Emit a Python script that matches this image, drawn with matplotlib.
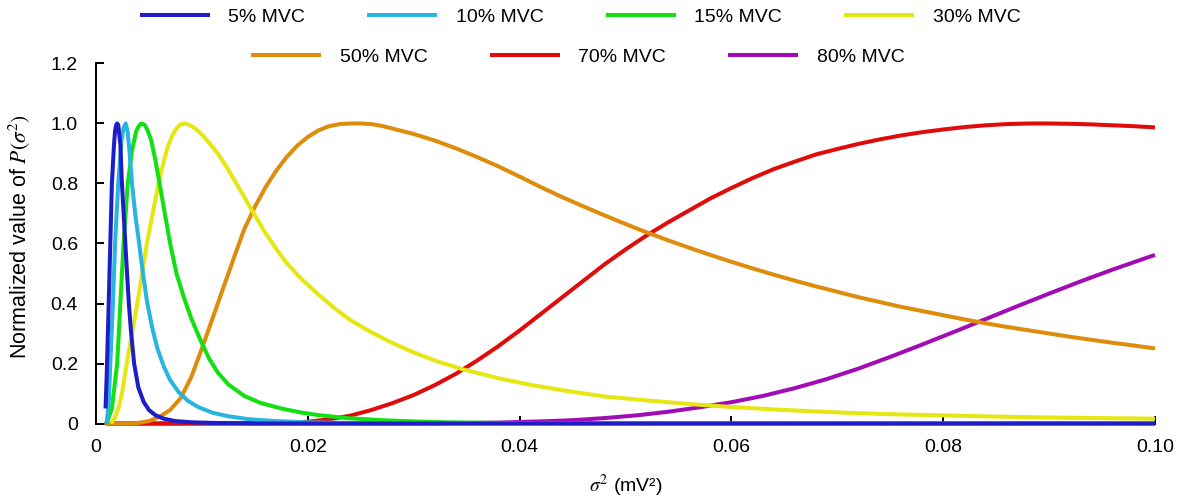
import numpy as np
import matplotlib
matplotlib.use("Agg")
import matplotlib.pyplot as plt

plt.rcParams["font.family"] = ["Liberation Sans", "DejaVu Sans"]
plt.rcParams["mathtext.fontset"] = "stix"

# normalised P(sigma^2) curves, one per contraction level
labels = ["5% MVC", "10% MVC", "15% MVC", "30% MVC", "50% MVC", "70% MVC", "80% MVC"]
colors = ["#1e1ec8", "#2ab4e0", "#12e012", "#e6e612", "#de8c0c", "#e00c0c", "#a20cb6"]

x05 = [0.0009, 0.0010, 0.0012, 0.00135, 0.0015, 0.0017, 0.0018, 0.0019, 0.0020, 0.0021,
       0.0023, 0.00245, 0.0028, 0.0031, 0.0033, 0.0036, 0.0040, 0.0045, 0.0050, 0.0056,
       0.0064, 0.0075, 0.0090, 0.0110, 0.0150, 0.1000]
y05 = [0.05, 0.15, 0.40, 0.60, 0.80, 0.93, 0.975, 0.995, 1.00, 0.995,
       0.93, 0.80, 0.58, 0.40, 0.31, 0.20, 0.12, 0.072, 0.045, 0.028,
       0.016, 0.008, 0.004, 0.002, 0.0, 0.0]

x10 = [0.0010, 0.0012, 0.00135, 0.0016, 0.0018, 0.0021, 0.0024, 0.0026, 0.0028, 0.0030,
       0.0032, 0.0034, 0.0037, 0.0040, 0.0044, 0.0048, 0.0053, 0.0058, 0.0064, 0.0070,
       0.0078, 0.0087, 0.0097, 0.0110, 0.0125, 0.0145, 0.0170, 0.0200, 0.0250, 0.0300,
       0.1000]
y10 = [0.0, 0.07, 0.20, 0.40, 0.60, 0.80, 0.94, 0.985, 1.00, 0.97,
       0.89, 0.80, 0.70, 0.62, 0.51, 0.41, 0.32, 0.25, 0.19, 0.145,
       0.105, 0.075, 0.054, 0.036, 0.024, 0.014, 0.008, 0.004, 0.001, 0.0,
       0.0]

x15 = [0.0010, 0.0015, 0.0020, 0.0023, 0.0026, 0.0030, 0.0034, 0.0038, 0.0041, 0.0043,
       0.0046, 0.0049, 0.0052, 0.0056, 0.0060, 0.0065, 0.0070, 0.0076, 0.0083, 0.0090,
       0.0099, 0.0107, 0.0115, 0.0125, 0.0140, 0.0155, 0.0175, 0.0193, 0.0210, 0.0237,
       0.0270, 0.0300, 0.0330, 0.0380, 0.0450, 0.1000]
y15 = [0.0, 0.05, 0.20, 0.40, 0.60, 0.80, 0.91, 0.975, 0.995, 1.00,
       0.995, 0.975, 0.945, 0.88, 0.80, 0.70, 0.60, 0.50, 0.42, 0.35,
       0.275, 0.215, 0.17, 0.13, 0.092, 0.069, 0.050, 0.037, 0.028, 0.018,
       0.011, 0.007, 0.004, 0.002, 0.0, 0.0]

x30 = [0.0014, 0.0018, 0.0022, 0.0025, 0.0029, 0.0034, 0.0039, 0.0044, 0.0048, 0.0053,
       0.0059, 0.0064, 0.0068, 0.0072, 0.0076, 0.0080, 0.0084, 0.0088, 0.0093, 0.0099,
       0.0107, 0.0115, 0.0123, 0.0130, 0.0140, 0.0149, 0.0160, 0.0171, 0.0180, 0.0193,
       0.0210, 0.0225, 0.0240, 0.0260, 0.0280, 0.0300, 0.0320, 0.0346, 0.0380, 0.0410,
       0.0440, 0.0480, 0.0520, 0.0560, 0.0600, 0.0650, 0.0700, 0.0750, 0.0800, 0.0850,
       0.0900, 0.0950, 0.1000]
y30 = [0.0, 0.02, 0.06, 0.11, 0.20, 0.30, 0.40, 0.51, 0.60, 0.69,
       0.80, 0.875, 0.925, 0.96, 0.984, 0.997, 1.00, 0.996, 0.985, 0.967,
       0.935, 0.90, 0.857, 0.815, 0.755, 0.70, 0.635, 0.578, 0.535, 0.485,
       0.43, 0.385, 0.345, 0.304, 0.268, 0.237, 0.210, 0.181, 0.151, 0.129,
       0.111, 0.090, 0.077, 0.065, 0.055, 0.045, 0.037, 0.031, 0.027, 0.023,
       0.020, 0.018, 0.016]

x50 = [0.0008, 0.0030, 0.0040, 0.0050, 0.0060, 0.0070, 0.0080, 0.0090, 0.0100, 0.0110,
       0.0120, 0.0130, 0.0140, 0.0150, 0.0160, 0.0170, 0.0180, 0.0190, 0.0200, 0.0210,
       0.0220, 0.0230, 0.0240, 0.0250, 0.0260, 0.0270, 0.0280, 0.0300, 0.0320, 0.0340,
       0.0360, 0.0380, 0.0400, 0.0420, 0.0440, 0.0460, 0.0480, 0.0500, 0.0520, 0.0540,
       0.0560, 0.0580, 0.0600, 0.0620, 0.0640, 0.0660, 0.0680, 0.0700, 0.0720, 0.0740,
       0.0760, 0.0780, 0.0800, 0.0820, 0.0840, 0.0860, 0.0880, 0.0900, 0.0920, 0.0940,
       0.0960, 0.0980, 0.1000]
y50 = [0.0, 0.0, 0.002, 0.008, 0.022, 0.045, 0.085, 0.155, 0.25, 0.35,
       0.45, 0.55, 0.648, 0.722, 0.787, 0.842, 0.888, 0.926, 0.955, 0.977,
       0.991, 0.998, 1.00, 1.00, 0.998, 0.992, 0.983, 0.965, 0.943, 0.917,
       0.888, 0.857, 0.823, 0.788, 0.755, 0.724, 0.694, 0.665, 0.637, 0.611,
       0.586, 0.562, 0.539, 0.517, 0.496, 0.476, 0.457, 0.439, 0.421, 0.405,
       0.389, 0.375, 0.361, 0.347, 0.334, 0.322, 0.311, 0.300, 0.289, 0.279,
       0.269, 0.260, 0.250]

x70 = [0.0010, 0.0100, 0.0180, 0.0200, 0.0220, 0.0240, 0.0260, 0.0280, 0.0300, 0.0320,
       0.0340, 0.0360, 0.0380, 0.0400, 0.0420, 0.0440, 0.0460, 0.0480, 0.0500, 0.0520,
       0.0540, 0.0560, 0.0580, 0.0600, 0.0620, 0.0640, 0.0660, 0.0680, 0.0700, 0.0720,
       0.0740, 0.0760, 0.0780, 0.0800, 0.0820, 0.0840, 0.0860, 0.0880, 0.0900, 0.0920,
       0.0940, 0.0960, 0.0980, 0.1000]
y70 = [0.0, 0.0, 0.002, 0.006, 0.014, 0.026, 0.045, 0.068, 0.095, 0.128,
       0.166, 0.21, 0.258, 0.31, 0.365, 0.42, 0.475, 0.53, 0.58, 0.627,
       0.67, 0.71, 0.75, 0.785, 0.818, 0.848, 0.873, 0.897, 0.915, 0.932,
       0.947, 0.96, 0.971, 0.98, 0.988, 0.994, 0.998, 1.00, 1.00, 0.999,
       0.997, 0.994, 0.991, 0.987]

x80 = [0.0010, 0.0300, 0.0340, 0.0380, 0.0420, 0.0450, 0.0480, 0.0510, 0.0540, 0.0570,
       0.0600, 0.0630, 0.0660, 0.0690, 0.0720, 0.0750, 0.0780, 0.0810, 0.0840, 0.0870,
       0.0900, 0.0930, 0.0960, 0.1000]
y80 = [0.0, 0.0, 0.001, 0.003, 0.007, 0.011, 0.018, 0.027, 0.039, 0.054,
       0.071, 0.092, 0.118, 0.148, 0.183, 0.222, 0.263, 0.305, 0.348, 0.391,
       0.433, 0.474, 0.513, 0.562]

series = [(x05, y05), (x10, y10), (x15, y15), (x30, y30), (x50, y50), (x70, y70), (x80, y80)]

xticks = [0, 0.02, 0.04, 0.06, 0.08, 0.10]
xticklabels = ["0", "0.02", "0.04", "0.06", "0.08", "0.10"]
yticks = [0, 0.2, 0.4, 0.6, 0.8, 1.0, 1.2]
yticklabels = ["0", "0.2", "0.4", "0.6", "0.8", "1.0", "1.2"]

fig = plt.figure(figsize=(11.78, 4.98), dpi=100)
ax = fig.add_axes([96 / 1178, 74.5 / 498, 1059 / 1178, 360 / 498])

handles = []
n = len(series)
for i, ((xs, ys), lab, col) in enumerate(zip(series, labels, colors)):
    # lower contraction levels sit on top
    h, = ax.plot(xs, ys, color=col, lw=2.9, label=lab, zorder=10 + n - i,
                 clip_on=False, solid_capstyle="butt", solid_joinstyle="round")
    handles.append(h)

ax.set_xlim(0, 0.1)
ax.set_ylim(0, 1.2)
ax.set_xticks(xticks)
ax.set_xticklabels(xticklabels)
ax.set_yticks(yticks)
ax.set_yticklabels(yticklabels)

for side in ["top", "right"]:
    ax.spines[side].set_visible(False)
for side in ["left", "bottom"]:
    ax.spines[side].set_linewidth(1.4)
ax.tick_params(direction="in", length=6, width=1.4, labelsize=14)
ax.tick_params(axis="y", pad=13)
ax.tick_params(axis="x", pad=11)

ax.set_xlabel(r"$\sigma^2$ (mV²)", fontsize=14, labelpad=12)
ax.set_ylabel(r"Normalized value of $P(\sigma^2)$", fontsize=15.5)
ax.yaxis.set_label_coords(-0.060, 0.52)

leg_kw = dict(frameon=False, fontsize=14, handlelength=3.6, handletextpad=0.95,
              columnspacing=3.2, borderaxespad=0, borderpad=0, loc="center")
fig.legend(handles[:4], labels[:4], ncol=4, bbox_to_anchor=(580 / 1178, 1 - 17 / 498), **leg_kw)
fig.legend(handles[4:], labels[4:], ncol=3, bbox_to_anchor=(578 / 1178, 1 - 57 / 498), **leg_kw)

fig.savefig("out.png", dpi=100)
